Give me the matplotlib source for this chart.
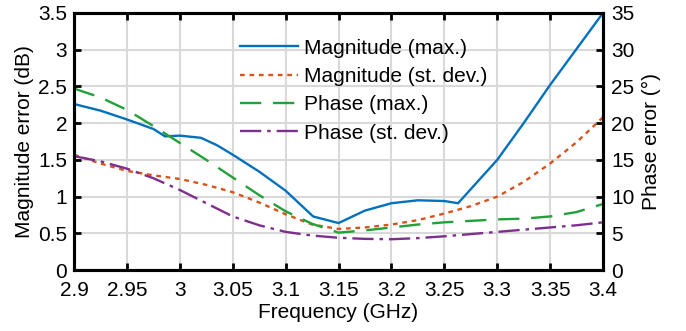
import matplotlib
matplotlib.use('Agg')
import matplotlib.pyplot as plt
import numpy as np

plt.rcParams['font.family'] = ['Liberation Sans', 'DejaVu Sans']

# magnitude (max.) in dB
f_mag_max = [2.90, 2.925, 2.95, 2.975, 2.986, 3.00, 3.02, 3.035, 3.05, 3.075, 3.10, 3.126,
             3.15, 3.175, 3.20, 3.225, 3.25, 3.263, 3.30, 3.325, 3.35, 3.375, 3.40]
mag_max = [2.26, 2.17, 2.05, 1.92, 1.82, 1.83, 1.80, 1.70, 1.57, 1.34, 1.08, 0.73,
           0.64, 0.81, 0.91, 0.95, 0.94, 0.91, 1.50, 2.00, 2.52, 3.01, 3.50]

# magnitude (st. dev.) in dB
f_mag_std = [2.90, 2.925, 2.95, 2.975, 3.00, 3.025, 3.05, 3.075, 3.10, 3.125, 3.15, 3.175,
             3.20, 3.225, 3.25, 3.275, 3.30, 3.325, 3.35, 3.375, 3.40]
mag_std = [1.57, 1.45, 1.35, 1.29, 1.24, 1.16, 1.06, 0.92, 0.76, 0.62, 0.56, 0.58,
           0.62, 0.68, 0.77, 0.87, 1.00, 1.20, 1.45, 1.74, 2.08]

# phase (max.) in degrees
f_ph_max = [2.90, 2.925, 2.95, 2.975, 3.00, 3.025, 3.05, 3.075, 3.10, 3.125, 3.15, 3.175,
            3.20, 3.225, 3.25, 3.275, 3.30, 3.325, 3.35, 3.375, 3.40]
ph_max = [24.7, 23.5, 21.8, 19.6, 17.3, 15.0, 12.6, 10.2, 8.0, 6.3, 5.1, 5.4,
          5.8, 6.2, 6.5, 6.7, 6.9, 7.0, 7.3, 7.9, 9.0]

# phase (st. dev.) in degrees
f_ph_std = [2.90, 2.925, 2.95, 2.975, 3.00, 3.025, 3.05, 3.075, 3.10, 3.125, 3.15, 3.175,
            3.20, 3.225, 3.25, 3.275, 3.30, 3.325, 3.35, 3.375, 3.40]
ph_std = [15.5, 14.8, 13.8, 12.5, 10.9, 9.1, 7.3, 6.1, 5.2, 4.7, 4.4, 4.25,
          4.2, 4.35, 4.6, 4.9, 5.2, 5.5, 5.8, 6.1, 6.5]

c_blue = '#0072BD'
c_orange = '#D95319'
c_green = '#22A03A'
c_purple = '#7E2F8E'
fs = 15

fig = plt.figure(figsize=(6.86, 3.31), dpi=100)
ax = fig.add_axes([0.108, 0.184, 0.771, 0.777])
ax2 = ax.twinx()

l1, = ax.plot(f_mag_max, mag_max, color=c_blue, lw=1.7, label='Magnitude (max.)')
l2, = ax.plot(f_mag_std, mag_std, color=c_orange, lw=1.7, dashes=(2, 2),
              label='Magnitude (st. dev.)')
l3, = ax2.plot(f_ph_max, ph_max, color=c_green, lw=1.7, dashes=(9, 5),
               label='Phase (max.)')
l4, = ax2.plot(f_ph_std, ph_std, color=c_purple, lw=1.7, dashes=(9, 2.5, 1.5, 2.5),
               label='Phase (st. dev.)')

ax.set_xlim(2.9, 3.4)
ax.set_ylim(0, 3.5)
ax2.set_ylim(0, 35)
ax.set_xticks(np.arange(2.9, 3.401, 0.05))
ax.set_xticklabels(['2.9', '2.95', '3', '3.05', '3.1', '3.15', '3.2', '3.25', '3.3', '3.35', '3.4'])
ax.set_yticks(np.arange(0, 3.51, 0.5))
ax.set_yticklabels(['0', '0.5', '1', '1.5', '2', '2.5', '3', '3.5'])
ax2.set_yticks(np.arange(0, 36, 5))

ax.grid(True, color='#d9d9d9', lw=1.5)
ax.set_axisbelow(True)

ax.tick_params(axis='x', direction='in', length=5, width=2, labelsize=fs, top=True, pad=8)
ax.tick_params(axis='y', direction='in', length=5, width=2, labelsize=fs, right=False, pad=5)
ax2.tick_params(direction='in', length=5, width=2, labelsize=fs, pad=6)
for a in (ax, ax2):
    for s in a.spines.values():
        s.set_linewidth(2.2)

ax.set_xlabel('Frequency (GHz)', fontsize=fs, labelpad=2)
ax.set_ylabel('Magnitude error (dB)', fontsize=fs, labelpad=3)
ax2.set_ylabel('Phase error (°)', fontsize=fs, labelpad=5)

leg = ax.legend(handles=[l1, l2, l3, l4], loc='upper left', bbox_to_anchor=(0.314, 0.90),
                frameon=False, fontsize=fs, handlelength=2.8, handletextpad=0.25,
                labelspacing=0.45, borderaxespad=0, borderpad=0)

fig.savefig('out.png', dpi=100)
